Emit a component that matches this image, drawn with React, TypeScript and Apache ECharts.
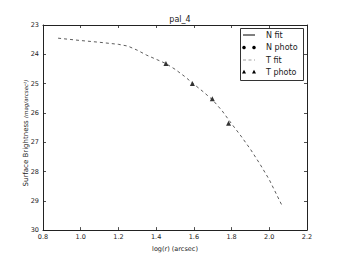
import React, { useEffect, useRef } from "react";
import * as echarts from "echarts";

const titleText = "pal_4";
const xTicks = [0.8, 1.0, 1.2, 1.4, 1.6, 1.8, 2.0, 2.2];
const yTicks = [23, 24, 25, 26, 27, 28, 29, 30];
const yAxisTitle = "Surface Brightness ";
const yAxisUnit = "(mag/arcsec²)";

// T fit curve (log r, surface brightness)
const tFitX = [0.88, 1.0, 1.1, 1.2, 1.25, 1.3, 1.35, 1.4, 1.45, 1.5, 1.55, 1.6, 1.65, 1.7, 1.75, 1.8, 1.85, 1.9, 1.95, 2.0, 2.065];
const tFitY = [23.45, 23.53, 23.59, 23.66, 23.72, 23.86, 24.03, 24.17, 24.31, 24.51, 24.75, 25.02, 25.28, 25.56, 25.93, 26.37, 26.79, 27.24, 27.74, 28.28, 29.13];

// T photo points
const tPhotoX = [1.452, 1.592, 1.698, 1.784];
const tPhotoY = [24.31, 25.0, 25.52, 26.35];

// N series (not visible in the reference)
const nFitX: number[] = [];
const nFitY: number[] = [];
const nPhotoX: number[] = [];
const nPhotoY: number[] = [];

const legendNames = ["N fit", "N photo", "T fit", "T photo"];

const FONT = "DejaVu Sans";
const INK = "#222";

export default function App() {
  const ref = useRef<HTMLDivElement>(null);
  useEffect(() => {
    document.body.style.margin = "0";
    if (!ref.current) return;
    const chart = echarts.init(ref.current, null, { renderer: "svg" });
    const zip = (xs: number[], ys: number[]) => xs.map((x, i) => [x, ys[i]]);
    const axisCommon = {
      axisLine: { show: true, lineStyle: { color: INK, width: 1 } },
      axisTick: { show: true, inside: true, length: 3, lineStyle: { color: INK, width: 0.8 } },
      splitLine: { show: false },
    };
    const lx1 = 244, lx2 = 254, ltx = 266;
    const ly = [35, 47.5, 60, 72];
    const Z = 20;
    const tri = (cx: number, cy: number) => ({
      type: "polygon",
      z: Z,
      shape: { points: [[cx, cy - 2.2], [cx - 2, cy + 1.5], [cx + 2, cy + 1.5]] },
      style: { fill: "#000" },
    });
    chart.setOption({
      animation: false,
      title: {
        text: titleText,
        left: 175,
        top: 10,
        textAlign: "center",
        textStyle: { fontFamily: FONT, fontSize: 8, fontWeight: "normal", color: INK },
      },
      grid: { left: 43, right: 34, top: 25, bottom: 26, containLabel: false },
      xAxis: [
        {
          type: "value",
          min: xTicks[0],
          max: xTicks[xTicks.length - 1],
          interval: 0.2,
          position: "bottom",
          name: "log(r) (arcsec)",
          nameLocation: "middle",
          nameGap: 11,
          nameTextStyle: { fontFamily: FONT, fontSize: 6.5, color: INK },
          axisLabel: {
            fontFamily: FONT,
            fontSize: 6.5,
            color: INK,
            margin: 3,
            formatter: (v: number) => v.toFixed(1),
          },
          ...axisCommon,
        },
        {
          type: "value",
          min: xTicks[0],
          max: xTicks[xTicks.length - 1],
          interval: 0.2,
          position: "top",
          axisLabel: { show: false },
          ...axisCommon,
        },
      ],
      yAxis: [
        {
          type: "value",
          min: yTicks[0],
          max: yTicks[yTicks.length - 1],
          interval: 1,
          inverse: true,
          position: "left",
          axisLabel: { fontFamily: FONT, fontSize: 6.5, color: INK, margin: 4 },
          ...axisCommon,
        },
        {
          type: "value",
          min: yTicks[0],
          max: yTicks[yTicks.length - 1],
          interval: 1,
          inverse: true,
          position: "right",
          axisLabel: { show: false },
          ...axisCommon,
        },
      ],
      series: [
        {
          name: legendNames[0],
          type: "line",
          data: zip(nFitX, nFitY),
          showSymbol: false,
          lineStyle: { color: "#000", width: 1 },
        },
        {
          name: legendNames[1],
          type: "scatter",
          data: zip(nPhotoX, nPhotoY),
          symbol: "circle",
          symbolSize: 4,
          itemStyle: { color: "#000" },
        },
        {
          name: legendNames[2],
          type: "line",
          data: zip(tFitX, tFitY),
          showSymbol: false,
          smooth: false,
          lineStyle: { color: "#333", width: 0.8, type: [3, 3] },
        },
        {
          name: legendNames[3],
          type: "scatter",
          data: zip(tPhotoX, tPhotoY),
          symbol: "triangle",
          symbolSize: 5,
          itemStyle: { color: "#000" },
        },
      ],
      graphic: [
        {
          type: "text",
          x: 26,
          y: 133,
          rotation: Math.PI / 2,
          style: {
            text: `{s|${yAxisTitle}}{m|${yAxisUnit}}`,
            align: "center",
            verticalAlign: "middle",
            fill: INK,
            fontFamily: FONT,
            fontSize: 7,
            rich: {
              s: { fontFamily: FONT, fontSize: 7, fill: INK },
              m: { fontFamily: FONT, fontSize: 5.5, fontStyle: "italic", fill: INK },
            },
          },
        },
        {
          type: "rect",
          shape: { x: 240.5, y: 28.5, width: 63, height: 52 },
          style: { fill: "#fff", stroke: "#333", lineWidth: 1 },
          z: 10,
        },
        { type: "line", z: Z, shape: { x1: lx1 - 1, y1: ly[0], x2: lx2 + 1, y2: ly[0] }, style: { stroke: "#000", lineWidth: 1 } },
        { type: "circle", z: Z, shape: { cx: lx1, cy: ly[1], r: 1.8 }, style: { fill: "#000" } },
        { type: "circle", z: Z, shape: { cx: lx2, cy: ly[1], r: 1.8 }, style: { fill: "#000" } },
        { type: "line", z: Z, shape: { x1: lx1 - 1, y1: ly[2], x2: lx2 + 1, y2: ly[2] }, style: { stroke: "#888", lineWidth: 0.8, lineDash: [3, 2.5] } },
        tri(lx1, ly[3]),
        tri(lx2, ly[3]),
        ...legendNames.map((n, i) => ({
          type: "text",
          z: Z,
          x: ltx,
          y: ly[i],
          style: { text: n, fontFamily: FONT, fontSize: 8, fill: INK, verticalAlign: "middle", align: "left" },
        })),
      ],
    });
    return () => chart.dispose();
  }, []);
  return <div ref={ref} style={{ width: 341, height: 257 }} />;
}
